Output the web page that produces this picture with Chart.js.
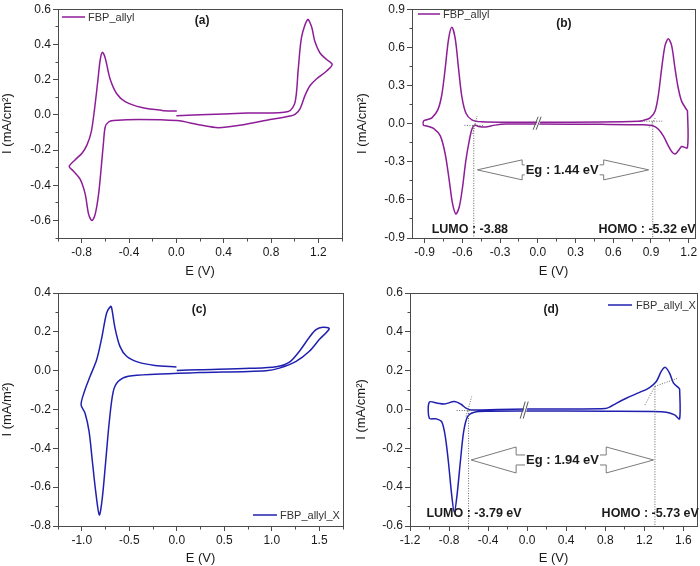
<!DOCTYPE html>
<html>
<head>
<meta charset="utf-8">
<script src="https://cdn.jsdelivr.net/npm/chart.js@4.4.1/dist/chart.umd.min.js"></script>
<style>
  html, body { margin: 0; padding: 0; background: #fff; }
  #wrap { position: relative; width: 700px; height: 566px; overflow: hidden; }
  canvas { position: absolute; }
</style>
</head>
<body>
<div id="wrap">
  <canvas id="cA" width="350" height="283" style="left:0;top:0"></canvas>
  <canvas id="cB" width="350" height="283" style="left:350px;top:0"></canvas>
  <canvas id="cC" width="350" height="283" style="left:0;top:283px"></canvas>
  <canvas id="cD" width="350" height="283" style="left:350px;top:283px"></canvas>
</div>
<script>
// (a) FBP_allyl, full scan
const eA = [0.00, 0.20, 0.60, 0.946, 1.003, 1.030, 1.059, 1.110, 1.143, 1.171, 1.214, 1.270, 1.317,
  1.270, 1.186, 1.129, 1.087, 1.045, 1.003, 0.960, 0.764, 0.566, 0.355, 0.201, 0.004, -0.320, -0.531, -0.573, -0.601, -0.615, -0.635, -0.657, -0.685, -0.713, -0.742, -0.770, -0.812, -0.868, -0.905,
  -0.854, -0.797, -0.755, -0.719, -0.691, -0.662, -0.643, -0.624, -0.601, -0.559, -0.502, -0.432, -0.291, -0.122, 0.004];
const iA = [-0.005, 0.000, 0.010, 0.019, 0.071, 0.258, 0.444, 0.541, 0.500, 0.416, 0.351, 0.314, 0.286,
  0.249, 0.205, 0.165, 0.109, 0.034, 0.002, -0.007, -0.031, -0.056, -0.073, -0.058, -0.033, -0.026, -0.033, -0.041, -0.069, -0.153, -0.302, -0.451, -0.563, -0.601, -0.563, -0.451, -0.367, -0.321, -0.293,
  -0.255, -0.218, -0.171, -0.097, 0.034, 0.202, 0.314, 0.355, 0.323, 0.202, 0.118, 0.075, 0.041, 0.025, 0.021];

// (b) FBP_allyl, split scans
const eB = [0.00, 0.50, 0.80, 0.839, 0.893, 0.932, 0.959, 0.985, 1.012, 1.038, 1.064, 1.091, 1.117, 1.144, 1.183, 1.19, 1.19,
  1.144, 1.117, 1.091, 1.064, 1.038, 0.998, 0.959, 0.919, 0.84, 0.50, 0.00, -0.25, -0.34, -0.418, -0.47, -0.503,
  -0.524, -0.545, -0.572, -0.598, -0.624, -0.651, -0.678, -0.704, -0.736, -0.775, -0.829, -0.882, -0.908, -0.908,
  -0.882, -0.842, -0.794, -0.763, -0.736, -0.709, -0.683, -0.656, -0.630, -0.604, -0.572, -0.524, -0.445, -0.20, 0.00];
const iB = [0.010, 0.012, 0.018, 0.025, 0.045, 0.097, 0.227, 0.434, 0.615, 0.667, 0.615, 0.434, 0.278, 0.175, 0.110, 0.100, -0.190,
  -0.180, -0.214, -0.239, -0.219, -0.175, -0.097, -0.045, -0.019, -0.010, -0.006, -0.004, -0.004, -0.012, -0.027, -0.022, -0.012,
  -0.045, -0.136, -0.291, -0.499, -0.654, -0.711, -0.628, -0.447, -0.239, -0.097, -0.037, -0.019, -0.014, 0.020,
  0.030, 0.045, 0.110, 0.227, 0.434, 0.667, 0.758, 0.667, 0.434, 0.214, 0.084, 0.030, 0.014, 0.011, 0.010];

// (c) FBP_allyl_X, full scan
const eC = [0.00, 0.241, 0.766, 1.046, 1.186, 1.291, 1.396, 1.466, 1.536, 1.605,
  1.50, 1.396, 1.256, 1.08, 0.94, 0.241, -0.231, -0.51, -0.615, -0.668, -0.71, -0.748, -0.784, -0.815, -0.853, -0.888, -0.923, -0.965, -1.007,
  -0.972, -0.913, -0.843, -0.79, -0.738, -0.696, -0.685, -0.65, -0.598, -0.528, -0.406, -0.231, -0.003];
const iC = [0.001, 0.005, 0.012, 0.020, 0.044, 0.100, 0.172, 0.211, 0.223, 0.216,
  0.160, 0.100, 0.048, 0.013, 0.000, -0.010, -0.018, -0.029, -0.055, -0.107, -0.262, -0.468, -0.657, -0.743, -0.623, -0.468, -0.313, -0.219, -0.176,
  -0.107, -0.030, 0.056, 0.168, 0.297, 0.331, 0.323, 0.220, 0.125, 0.074, 0.044, 0.027, 0.019];

// (d) FBP_allyl_X, split scans
const eD = [0.00, 0.50, 0.80, 0.844, 0.913, 1.015, 1.152, 1.254, 1.323, 1.374, 1.415, 1.459, 1.500, 1.555, 1.562, 1.562,
  1.511, 1.426, 1.288, 0.80, 0.00, -0.40, -0.540, -0.609, -0.650, -0.684, -0.718, -0.746, -0.773, -0.807, -0.841, -0.876, -0.933, -1.002, -1.002,
  -0.917, -0.848, -0.746, -0.677, -0.626, -0.574, -0.30, 0.00];
const iD = [0.002, 0.003, 0.005, 0.012, 0.032, 0.058, 0.088, 0.113, 0.144, 0.196, 0.217, 0.187, 0.136, 0.110, 0.105, -0.048,
  -0.028, -0.014, -0.010, -0.009, -0.008, -0.009, -0.014, -0.036, -0.113, -0.268, -0.440, -0.530, -0.440, -0.268, -0.131, -0.062, -0.048, -0.045, 0.038,
  0.032, 0.028, 0.041, 0.027, 0.007, -0.002, 0.000, 0.002];

// tick labels
const xTicksA = [-0.8, -0.4, 0, 0.4, 0.8, 1.2];
const yTicksA = [-0.6, -0.4, -0.2, 0, 0.2, 0.4, 0.6];
const xTicksB = [-0.9, -0.6, -0.3, 0, 0.3, 0.6, 0.9, 1.2];
const yTicksB = [-0.9, -0.6, -0.3, 0, 0.3, 0.6, 0.9];
const xTicksC = [-1.0, -0.5, 0, 0.5, 1.0, 1.5];
const yTicksC = [-0.8, -0.6, -0.4, -0.2, 0, 0.2, 0.4];
const xTicksD = [-1.2, -0.8, -0.4, 0, 0.4, 0.8, 1.2, 1.6];
const yTicksD = [-0.6, -0.4, -0.2, 0, 0.2, 0.4, 0.6];

const FONT = '"Liberation Sans", Arial, sans-serif';
const AXIS = '#4a4a4a';
const TXT = '#1a1a1a';
const PURPLE = '#8e1d98';
const BLUE = '#2020b0';

function pts(xs, ys) {
    return xs.map((x, k) => ({ x: x, y: ys[k] }));
}

// minor ticks sit halfway between the labelled ones
function minorVals(scale, major) {
    const step = (major[1] - major[0]) / 2;
    let v = major[0];
    while (v - step >= scale.min - 1e-9) v -= step;
    const out = [];
    for (; v <= scale.max + 1e-9; v += step) {
        if (!major.some(m => Math.abs(m - v) < 1e-6)) out.push(v);
    }
    return out;
}

function decor(o) {
    return {
        id: 'decor',
        afterDraw(chart) {
            const ctx = chart.ctx, xs = chart.scales.x, ys = chart.scales.y, a = chart.chartArea;
            const X = v => xs.getPixelForValue(v), Y = v => ys.getPixelForValue(v);
            const line = (x1, y1, x2, y2) => { ctx.beginPath(); ctx.moveTo(x1, y1); ctx.lineTo(x2, y2); ctx.stroke(); };
            ctx.save();

            // frame
            const l = Math.floor(a.left) + 0.5, r = Math.floor(a.right) + 0.5;
            const t = Math.floor(a.top) + 0.5, b = Math.floor(a.bottom) + 0.5;
            ctx.strokeStyle = AXIS;
            ctx.lineWidth = 1;
            ctx.strokeRect(l, t, r - l, b - t);
            minorVals(xs, o.xTicks).forEach(v => { const p = Math.floor(X(v)) + 0.5; line(p, b, p, b + 3); });
            minorVals(ys, o.yTicks).forEach(v => { const p = Math.floor(Y(v)) + 0.5; line(l, p, l - 3, p); });

            // dotted onset guides
            ctx.strokeStyle = '#666';
            ctx.setLineDash([1, 1.5]);
            (o.guides || []).forEach(g => line(X(g[0]), Y(g[1]), X(g[2]), Y(g[3])));
            ctx.setLineDash([]);

            // break mark on the curve
            if (o.brk) {
                const cx = X(o.brk.e), cy = Y(o.brk.i), h = o.brk.h / 2;
                ctx.fillStyle = '#fff';
                ctx.beginPath();
                ctx.moveTo(cx - 3, cy + h); ctx.lineTo(cx + 2, cy - h);
                ctx.lineTo(cx + 5, cy - h); ctx.lineTo(cx, cy + h);
                ctx.closePath(); ctx.fill();
                ctx.strokeStyle = '#555';
                line(cx - 4, cy + h, cx + 1, cy - h);
                line(cx - 1, cy + h, cx + 4, cy - h);
            }

            // band-gap double arrow
            if (o.arrow) {
                const w = o.arrow, cy = Y(w.i);
                const [xL, xLB, xRB, xR] = w.e.map(X);
                ctx.beginPath();
                ctx.moveTo(xL, cy);
                ctx.lineTo(xLB, cy - w.hh); ctx.lineTo(xLB, cy - w.sh);
                ctx.lineTo(xRB, cy - w.sh); ctx.lineTo(xRB, cy - w.hh);
                ctx.lineTo(xR, cy);
                ctx.lineTo(xRB, cy + w.hh); ctx.lineTo(xRB, cy + w.sh);
                ctx.lineTo(xLB, cy + w.sh); ctx.lineTo(xLB, cy + w.hh);
                ctx.closePath();
                ctx.fillStyle = '#fff'; ctx.fill();
                ctx.strokeStyle = '#7a7a7a'; ctx.lineWidth = 1; ctx.stroke();
                ctx.font = 'bold 13px ' + FONT;
                const tw = ctx.measureText(w.text).width, tx = X(w.te);
                ctx.fillStyle = '#fff';
                ctx.fillRect(tx - tw / 2 - 1, cy - 8, tw + 2, 16);
                ctx.fillStyle = TXT;
                ctx.textAlign = 'center'; ctx.textBaseline = 'middle';
                ctx.fillText(w.text, tx, cy + 0.5);
            }

            // free labels
            ctx.textAlign = 'center'; ctx.textBaseline = 'middle';
            (o.labels || []).forEach(s => {
                ctx.font = s.font + ' ' + FONT;
                ctx.fillStyle = TXT;
                ctx.fillText(s.text, X(s.e), Y(s.i));
            });

            // legend
            const lg = o.legend, ds = chart.data.datasets[0];
            ctx.strokeStyle = ds.borderColor; ctx.lineWidth = 1.5;
            line(lg.x1, lg.y, lg.x2, lg.y);
            ctx.font = '11px ' + FONT;
            ctx.fillStyle = '#333';
            ctx.textAlign = 'left'; ctx.textBaseline = 'middle';
            ctx.fillText(ds.label, lg.tx, lg.y + 0.5);
            ctx.restore();
        }
    };
}

function axis(min, max, ticks, title, fit, tpad) {
    return {
        type: 'linear',
        min: min,
        max: max,
        afterBuildTicks: s => { s.ticks = ticks.map(v => ({ value: v })); },
        afterFit: fit,
        border: { display: false },
        grid: { drawOnChartArea: false, drawTicks: true, tickLength: 5, color: AXIS, lineWidth: 1 },
        ticks: {
            autoSkip: false, maxRotation: 0, padding: 2, color: TXT,
            font: { family: FONT, size: 12 },
            callback: v => v.toFixed(1)
        },
        title: { display: true, text: title, color: TXT, font: { family: FONT, size: 13 }, padding: tpad }
    };
}

function makeChart(id, data, o) {
    return new Chart(document.getElementById(id), {
        type: 'scatter',
        data: {
            datasets: [{
                label: o.label,
                data: data,
                showLine: true,
                borderColor: o.color,
                borderWidth: 1.5,
                pointRadius: 0,
                tension: 0.3
            }]
        },
        options: {
            responsive: false,
            animation: false,
            devicePixelRatio: 1,
            layout: { padding: { left: 0, top: o.padTop, right: o.padRight, bottom: 0 } },
            plugins: { legend: { display: false }, tooltip: { enabled: false } },
            scales: {
                x: axis(o.xMin, o.xMax, o.xTicks, 'E (V)', s => { s.height = o.xH; }, { top: 0, bottom: o.xTitlePad }),
                y: axis(o.yMin, o.yMax, o.yTicks, o.yTitle, s => { s.width = o.yW; }, { top: o.yTitlePad, bottom: 0 })
            }
        },
        plugins: [decor(o)]
    });
}

makeChart('cA', pts(eA, iA), {
    label: 'FBP_allyl', color: PURPLE,
    xMin: -1.0, xMax: 1.4, yMin: -0.7, yMax: 0.6, xTicks: xTicksA, yTicks: yTicksA,
    yTitle: 'I (mA/cm²)', yW: 58, xH: 45, padTop: 6, padRight: 8, xTitlePad: 4, yTitlePad: 0,
    legend: { x1: 62, x2: 85, y: 17, tx: 88 },
    labels: [{ text: '(a)', e: 0.218, i: 0.536, font: 'bold 12px' }]
});

makeChart('cB', pts(eB, iB), {
    label: 'FBP_allyl', color: PURPLE,
    xMin: -1.0, xMax: 1.25, yMin: -0.9, yMax: 0.9, xTicks: xTicksB, yTicks: yTicksB,
    yTitle: 'I (mA/cm²)', yW: 62, xH: 45, padTop: 7, padRight: 5, xTitlePad: 4, yTitlePad: 5,
    legend: { x1: 68, x2: 90, y: 14, tx: 93 },
    labels: [
        { text: '(b)', e: 0.207, i: 0.783, font: 'bold 12px' },
        { text: 'LUMO : -3.88', e: -0.54, i: -0.835, font: 'bold 12.5px' },
        { text: 'HOMO : -5.32 eV', e: 0.869, i: -0.835, font: 'bold 12.5px' }
    ],
    guides: [[-0.583, -0.014, -0.425, -0.014], [-0.517, -0.08, -0.483, 0.058], [-0.509, -0.014, -0.509, -0.9],
             [0.843, 0.019, 0.989, 0.019], [0.885, -0.03, 0.935, 0.045], [0.914, 0.019, 0.914, -0.9]],
    arrow: { i: -0.364, e: [-0.481, -0.124, 0.524, 0.882], hh: 10, sh: 5, text: 'Eg : 1.44 eV', te: 0.194 },
    brk: { e: -0.005, i: 0.003, h: 13 }
});

makeChart('cC', pts(eC, iC), {
    label: 'FBP_allyl_X', color: BLUE,
    xMin: -1.25, xMax: 1.75, yMin: -0.8, yMax: 0.4, xTicks: xTicksC, yTicks: yTicksC,
    yTitle: 'I (mA/m²)', yW: 58, xH: 40, padTop: 10, padRight: 7, xTitlePad: 0, yTitlePad: 0,
    legend: { x1: 253, x2: 277, y: 232, tx: 280 },
    labels: [{ text: '(c)', e: 0.235, i: 0.314, font: 'bold 12px' }]
});

makeChart('cD', pts(eD, iD), {
    label: 'FBP_allyl_X', color: BLUE,
    xMin: -1.2, xMax: 1.74, yMin: -0.6, yMax: 0.6, xTicks: xTicksD, yTicks: yTicksD,
    yTitle: 'I (mA/cm²)', yW: 60, xH: 40, padTop: 10, padRight: 3, xTitlePad: 0, yTitlePad: 4,
    legend: { x1: 258, x2: 282, y: 22, tx: 286 },
    labels: [
        { text: '(d)', e: 0.246, i: 0.514, font: 'bold 12px' },
        { text: 'LUMO : -3.79 eV', e: -0.544, i: -0.535, font: 'bold 12.5px' },
        { text: 'HOMO : -5.73 eV', e: 1.261, i: -0.535, font: 'bold 12.5px' }
    ],
    guides: [[-0.722, -0.005, -0.517, -0.005], [-0.626, -0.036, -0.568, 0.067], [-0.60, -0.005, -0.60, -0.6],
             [1.207, 0.024, 1.309, 0.119], [1.309, 0.119, 1.548, 0.162], [1.309, 0.119, 1.309, -0.6]],
    arrow: { i: -0.26, e: [-0.574, -0.113, 0.810, 1.295], hh: 13, sh: 5, text: 'Eg : 1.94 eV', te: 0.362 },
    brk: { e: -0.03, i: -0.003, h: 17 }
});
</script>
</body>
</html>
